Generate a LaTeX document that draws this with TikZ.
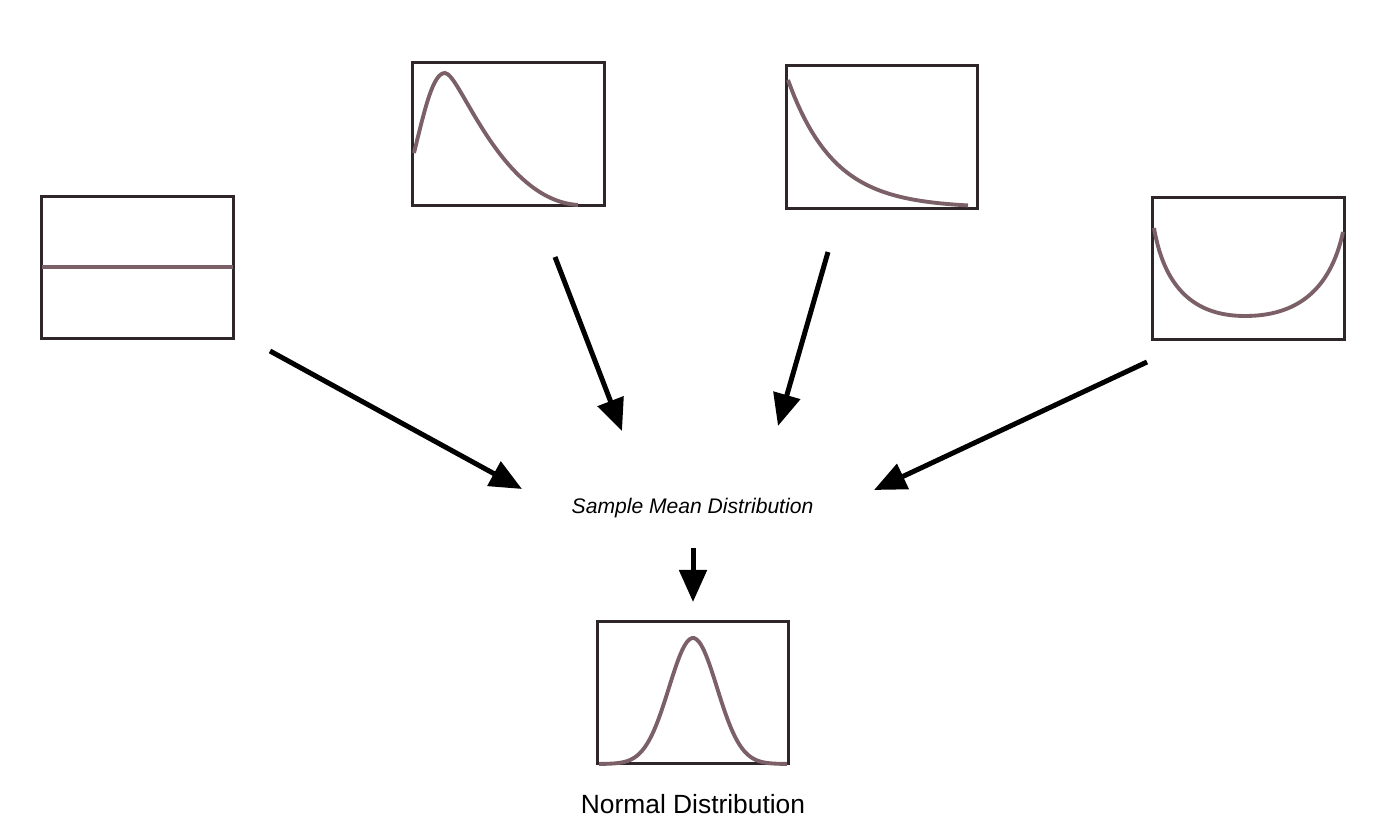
\documentclass[tikz,border=0pt]{standalone}
\usepackage{fontspec}
\setmainfont{Liberation Sans}
\usetikzlibrary{arrows.meta}
\definecolor{FrameDark}{HTML}{2E2628}
\definecolor{CurveMauve}{HTML}{7B6068}

\begin{document}
\begin{tikzpicture}[x=0.01cm,y=-0.01cm,
    distbox/.style={draw=FrameDark,line width=0.85pt,minimum width=1.91cm,minimum height=1.42cm,inner sep=0pt},
    curve/.style={draw=CurveMauve,line width=1.1pt},
    flow/.style={line width=1.42pt,-{Triangle[length=0.32cm,width=0.27cm]}}]
      \useasboundingbox (0,0) rectangle (1400,834);

      % the four source distributions
      \node[distbox] (uniform) at (137.5,267.5) {};
      \node[distbox] (skewed) at (508.5,134) {};
      \node[distbox] (decay) at (882,137) {};
      \node[distbox] (ushape) at (1248.5,268.5) {};

      \draw[curve] (42,267) -- (233,267);
      \draw[curve] (414,153) .. controls (425,108) and (433,73) .. (445,73)
        .. controls (460,73) and (500,200) .. (578,205);
      \draw[curve,domain=788:968,samples=60] plot (\x,{208-128*exp(-(\x-788)/46)});
      \draw[curve] (1154,228) .. controls (1165,292) and (1198,316) .. (1245,316)
        .. controls (1295,316) and (1330,292) .. (1343,232);

      % middle and result
      \node[font=\fontsize{6}{7}\selectfont\itshape] (means) at (692.5,508) {Sample Mean Distribution};
      \node[distbox] (normal) at (693,692.5) {};
      \draw[curve,domain=599:787,samples=80] plot (\x,{764-126*exp(-((\x-693)^2)/(2*24*24))});
      \node[font=\fontsize{7.5}{9}\selectfont] (normlabel) at (693,804) {Normal Distribution};

      % arrow ends
      \coordinate (uniform-out) at (270,351);
      \coordinate (skewed-out) at (555,257);
      \coordinate (decay-out) at (828,252);
      \coordinate (ushape-out) at (1147,362);
      \coordinate (means-a) at (522,489);
      \coordinate (means-b) at (622,431);
      \coordinate (means-c) at (778,426);
      \coordinate (means-d) at (874,490);
      \coordinate (means-out) at (693,548);
      \coordinate (normal-in) at (693,602);

      \draw[flow] (uniform-out) -- (means-a);
      \draw[flow] (skewed-out) -- (means-b);
      \draw[flow] (decay-out) -- (means-c);
      \draw[flow] (ushape-out) -- (means-d);
      \draw[flow] (means-out) -- (normal-in);
    \end{tikzpicture}
\end{document}
